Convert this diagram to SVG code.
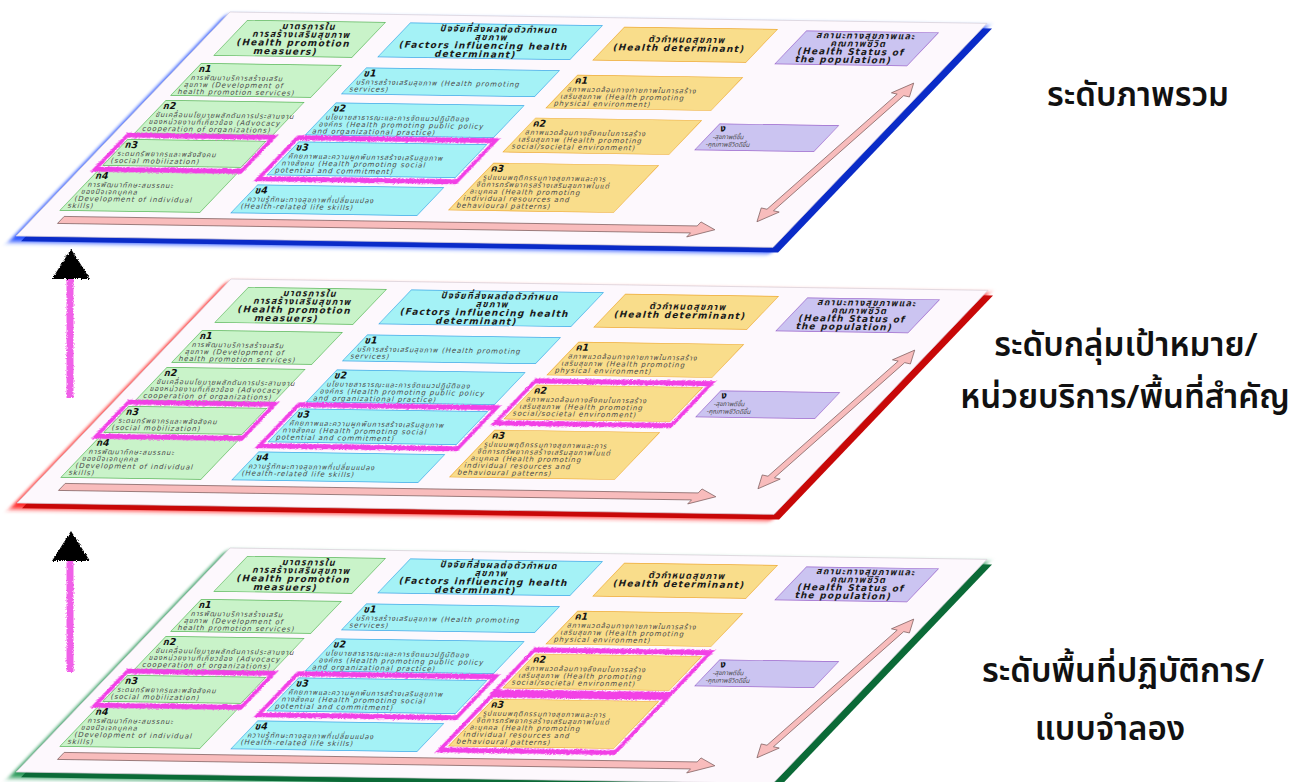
<svg xmlns="http://www.w3.org/2000/svg" width="1299" height="782" viewBox="0 0 1299 782">
<defs>
<filter id="rough" filterUnits="userSpaceOnUse" x="-100" y="-100" width="1500" height="1000">
<feTurbulence type="fractalNoise" baseFrequency="0.7" numOctaves="2" seed="3" result="n"/>
<feDisplacementMap in="SourceGraphic" in2="n" scale="3.5" xChannelSelector="R" yChannelSelector="G"/>
</filter>
<filter id="glow" filterUnits="userSpaceOnUse" x="-100" y="-100" width="1500" height="1000">
<feGaussianBlur stdDeviation="2.2"/>
</filter>
<style>
.face{fill:#fdf8fd;stroke:#d8d0d8;stroke-width:0.6}
.g{fill:#c9f3c9;stroke:#5cb85c;stroke-width:0.7}
.c{fill:#a4f2f6;stroke:#3fa9e8;stroke-width:0.7}
.y{fill:#f9dd8b;stroke:#eeaa33;stroke-width:0.7}
.p{fill:#cbc4f1;stroke:#9a66cc;stroke-width:0.7}
.hl{fill:none;stroke:#f23fe6;stroke-width:5;filter:url(#rough)}
.arr{fill:#f8bcbc;stroke:#7a5a5a;stroke-width:0.6}
text{font-family:"DejaVu Sans","Noto Sans Thai","Noto Sans",sans-serif}
.h{font-size:9px;font-weight:bold;letter-spacing:1.2px;fill:#1a1a1a;text-anchor:middle}
.l{font-size:9.5px;font-weight:bold;fill:#111}
.t{font-size:7px;letter-spacing:0.9px;fill:#4a4a4a}
.s{font-size:6.3px;fill:#4a4a4a}
.big{font-family:"Noto Sans Thai","Noto Sans","Liberation Sans",sans-serif;font-size:33px;font-weight:600;fill:#111;text-anchor:middle}
</style>
</defs>
<rect width="1299" height="782" fill="#ffffff"/>

<!-- ===== TOP PLANE ===== -->
<g id="plane-top" transform="matrix(1 0.015 -0.955 1 230 12)">
<rect x="-2" y="3" width="763" height="227" fill="#2a55ff" filter="url(#glow)"/>
<rect x="9.8" y="5" width="757" height="224" fill="#0a2bc8"/>
<rect class="face" x="0" y="0" width="757" height="224"/>
<g id="top-hk"><rect class="g" x="25" y="8" width="138" height="35"/>
<text class="h" transform="translate(94 16) skewX(34)">มาตรการใน</text>
<text class="h" transform="translate(94 24) skewX(34)">การสร้างเสริมสุขภาพ</text>
<text class="h" transform="translate(94 32.5) skewX(34)">(Health promotion</text>
<text class="h" transform="translate(94 41) skewX(34)">measuers)</text></g>
<g id="top-hkh"><rect class="c" x="188" y="8" width="192" height="34"/>
<text class="h" transform="translate(284 16) skewX(34)">ปัจจัยที่ส่งผลต่อตัวกำหนด</text>
<text class="h" transform="translate(284 24) skewX(34)">สุขภาพ</text>
<text class="h" transform="translate(284 32.5) skewX(34)">(Factors influencing health</text>
<text class="h" transform="translate(284 41) skewX(34)">determinant)</text></g>
<g id="top-hkk"><rect class="y" x="403" y="9" width="153" height="33"/>
<text class="h" transform="translate(479 23.5) skewX(34)">ตัวกำหนดสุขภาพ</text>
<text class="h" transform="translate(479 32) skewX(34)">(Health determinant)</text></g>
<g id="top-hn"><rect class="p" x="586" y="10" width="132" height="33"/>
<text class="h" transform="translate(652 17) skewX(34)">สถานะทางสุขภาพและ</text>
<text class="h" transform="translate(652 25) skewX(34)">คุณภาพชีวิต</text>
<text class="h" transform="translate(652 33) skewX(34)">(Health Status of</text>
<text class="h" transform="translate(652 41) skewX(34)">the population)</text></g>
<g id="top-k1"><rect class="g" x="20" y="51" width="140" height="32"/>
<text class="l" transform="translate(25 59.5) skewX(34)">ก1</text>
<text class="t" transform="translate(25 67.5) skewX(34)">การพัฒนาบริการสร้างเสริม</text>
<text class="t" transform="translate(25 74.5) skewX(34)">สุขภาพ (Development of</text>
<text class="t" transform="translate(25 81.5) skewX(34)">health promotion services)</text></g>
<g id="top-k2"><rect class="g" x="20" y="88" width="138" height="33"/>
<text class="l" transform="translate(25 96.5) skewX(34)">ก2</text>
<text class="t" transform="translate(25 104.5) skewX(34)">ขับเคลื่อนนโยบายผลักดันการประสานงาน</text>
<text class="t" transform="translate(25 111.5) skewX(34)">ของหน่วยงานที่เกี่ยวข้อง (Advocacy</text>
<text class="t" transform="translate(25 118.5) skewX(34)">cooperation of organizations)</text></g>
<g id="top-k3"><rect class="g" x="19" y="127" width="138" height="26"/>
<text class="l" transform="translate(24 135.5) skewX(34)">ก3</text>
<text class="t" transform="translate(24 143.5) skewX(34)">ระดมทรัพยากรและพลังสังคม</text>
<text class="t" transform="translate(24 150.5) skewX(34)">(social mobilization)</text></g>
<g id="top-k4"><rect class="g" x="19" y="158" width="140" height="40"/>
<text class="l" transform="translate(24 166.5) skewX(34)">ก4</text>
<text class="t" transform="translate(24 174.5) skewX(34)">การพัฒนาทักษะสมรรถนะ</text>
<text class="t" transform="translate(24 181.5) skewX(34)">ของปัจเจกบุคคล</text>
<text class="t" transform="translate(24 188.5) skewX(34)">(Development of individual</text>
<text class="t" transform="translate(24 195.5) skewX(34)">skills)</text></g>
<g id="top-kh1"><rect class="c" x="187" y="53" width="193" height="26"/>
<text class="l" transform="translate(192 61.5) skewX(34)">ข1</text>
<text class="t" transform="translate(192 69.5) skewX(34)">บริการสร้างเสริมสุขภาพ (Health promoting</text>
<text class="t" transform="translate(192 76.5) skewX(34)">services)</text></g>
<g id="top-kh2"><rect class="c" x="190" y="88" width="188" height="32"/>
<text class="l" transform="translate(195 96.5) skewX(34)">ข2</text>
<text class="t" transform="translate(195 104.5) skewX(34)">นโยบายสาธารณะและการจัดแนวปฏิบัติของ</text>
<text class="t" transform="translate(195 111.5) skewX(34)">องค์กร  (Health promoting public policy</text>
<text class="t" transform="translate(195 118.5) skewX(34)">and organizational practice)</text></g>
<g id="top-kh3"><rect class="c" x="190" y="127" width="188" height="33"/>
<text class="l" transform="translate(195 135.5) skewX(34)">ข3</text>
<text class="t" transform="translate(195 143.5) skewX(34)">ศักยภาพและความผูกพันการสร้างเสริมสุขภาพ</text>
<text class="t" transform="translate(195 150.5) skewX(34)">ทางสังคม (Health promoting social</text>
<text class="t" transform="translate(195 157.5) skewX(34)">potential and commitment)</text></g>
<g id="top-kh4"><rect class="c" x="190" y="170" width="186" height="28"/>
<text class="l" transform="translate(195 178.5) skewX(34)">ข4</text>
<text class="t" transform="translate(195 186.5) skewX(34)">ความรู้ทักษะทางสุขภาพที่เปลี่ยนแปลง</text>
<text class="t" transform="translate(195 193.5) skewX(34)">(Health-related life skills)</text></g>
<g id="top-kk1"><rect class="y" x="402" y="57" width="165" height="33"/>
<text class="l" transform="translate(407 65.5) skewX(34)">ค1</text>
<text class="t" transform="translate(407 73.5) skewX(34)">สภาพแวดล้อมทางกายภาพในการสร้าง</text>
<text class="t" transform="translate(407 80.5) skewX(34)">เสริมสุขภาพ  (Health promoting</text>
<text class="t" transform="translate(407 87.5) skewX(34)">physical environment)</text></g>
<g id="top-kk2"><rect class="y" x="401" y="100" width="166" height="34"/>
<text class="l" transform="translate(406 108.5) skewX(34)">ค2</text>
<text class="t" transform="translate(406 116.5) skewX(34)">สภาพแวดล้อมทางสังคมในการสร้าง</text>
<text class="t" transform="translate(406 123.5) skewX(34)">เสริมสุขภาพ  (Health promoting</text>
<text class="t" transform="translate(406 130.5) skewX(34)">social/societal environment)</text></g>
<g id="top-kk3"><rect class="y" x="402" y="145" width="165" height="47"/>
<text class="l" transform="translate(407 153.5) skewX(34)">ค3</text>
<text class="t" transform="translate(407 161.5) skewX(34)">รูปแบบพฤติกรรมทางสุขภาพและการ</text>
<text class="t" transform="translate(407 168.5) skewX(34)">จัดการทรัพยากรสร้างเสริมสุขภาพในแต่</text>
<text class="t" transform="translate(407 175.5) skewX(34)">ละบุคคล  (Health promoting</text>
<text class="t" transform="translate(407 182.5) skewX(34)">individual resources and</text>
<text class="t" transform="translate(407 189.5) skewX(34)">behavioural patterns)</text></g>
<g id="top-n"><rect class="p" x="588" y="103" width="119" height="26"/>
<text class="l" transform="translate(595 110.5) skewX(34)">ง</text>
<text class="s" transform="translate(595 118) skewX(34)">-สุขภาพดีขึ้น</text>
<text class="s" transform="translate(595 125.5) skewX(34)">-คุณภาพชีวิตดีขึ้น</text></g>
<g id="top-flow">
<polygon class="arr" points="29,204 662,204 662,200 683,207.5 662,215 662,211 29,211"/>
<polygon class="arr" points="741,60 749.8,73.7 742.9,72.5 722.9,187.9 729.8,189.1 717,199 708.2,185.3 715.1,186.5 735.1,71.1 728.2,69.9"/>
</g>
<g id="top-highlights">
<rect class="hl" x="15" y="123" width="146" height="34"/>
<rect class="hl" x="185" y="123" width="198" height="41"/>
</g>
</g>

<!-- ===== MIDDLE PLANE ===== -->
<g id="plane-mid" transform="matrix(1 0.015 -0.955 1 231 279)">
<rect x="-2" y="3" width="763" height="227" fill="#ff2a2a" filter="url(#glow)"/>
<rect x="9.8" y="5" width="757" height="224" fill="#c80808"/>
<rect class="face" x="0" y="0" width="757" height="224"/>
<g id="mid-hk"><rect class="g" x="25" y="8" width="138" height="35"/>
<text class="h" transform="translate(94 16) skewX(34)">มาตรการใน</text>
<text class="h" transform="translate(94 24) skewX(34)">การสร้างเสริมสุขภาพ</text>
<text class="h" transform="translate(94 32.5) skewX(34)">(Health promotion</text>
<text class="h" transform="translate(94 41) skewX(34)">measuers)</text></g>
<g id="mid-hkh"><rect class="c" x="188" y="8" width="192" height="34"/>
<text class="h" transform="translate(284 16) skewX(34)">ปัจจัยที่ส่งผลต่อตัวกำหนด</text>
<text class="h" transform="translate(284 24) skewX(34)">สุขภาพ</text>
<text class="h" transform="translate(284 32.5) skewX(34)">(Factors influencing health</text>
<text class="h" transform="translate(284 41) skewX(34)">determinant)</text></g>
<g id="mid-hkk"><rect class="y" x="403" y="9" width="153" height="33"/>
<text class="h" transform="translate(479 23.5) skewX(34)">ตัวกำหนดสุขภาพ</text>
<text class="h" transform="translate(479 32) skewX(34)">(Health determinant)</text></g>
<g id="mid-hn"><rect class="p" x="586" y="10" width="132" height="33"/>
<text class="h" transform="translate(652 17) skewX(34)">สถานะทางสุขภาพและ</text>
<text class="h" transform="translate(652 25) skewX(34)">คุณภาพชีวิต</text>
<text class="h" transform="translate(652 33) skewX(34)">(Health Status of</text>
<text class="h" transform="translate(652 41) skewX(34)">the population)</text></g>
<g id="mid-k1"><rect class="g" x="20" y="51" width="140" height="32"/>
<text class="l" transform="translate(25 59.5) skewX(34)">ก1</text>
<text class="t" transform="translate(25 67.5) skewX(34)">การพัฒนาบริการสร้างเสริม</text>
<text class="t" transform="translate(25 74.5) skewX(34)">สุขภาพ (Development of</text>
<text class="t" transform="translate(25 81.5) skewX(34)">health promotion services)</text></g>
<g id="mid-k2"><rect class="g" x="20" y="88" width="138" height="33"/>
<text class="l" transform="translate(25 96.5) skewX(34)">ก2</text>
<text class="t" transform="translate(25 104.5) skewX(34)">ขับเคลื่อนนโยบายผลักดันการประสานงาน</text>
<text class="t" transform="translate(25 111.5) skewX(34)">ของหน่วยงานที่เกี่ยวข้อง (Advocacy</text>
<text class="t" transform="translate(25 118.5) skewX(34)">cooperation of organizations)</text></g>
<g id="mid-k3"><rect class="g" x="19" y="127" width="138" height="26"/>
<text class="l" transform="translate(24 135.5) skewX(34)">ก3</text>
<text class="t" transform="translate(24 143.5) skewX(34)">ระดมทรัพยากรและพลังสังคม</text>
<text class="t" transform="translate(24 150.5) skewX(34)">(social mobilization)</text></g>
<g id="mid-k4"><rect class="g" x="19" y="158" width="140" height="40"/>
<text class="l" transform="translate(24 166.5) skewX(34)">ก4</text>
<text class="t" transform="translate(24 174.5) skewX(34)">การพัฒนาทักษะสมรรถนะ</text>
<text class="t" transform="translate(24 181.5) skewX(34)">ของปัจเจกบุคคล</text>
<text class="t" transform="translate(24 188.5) skewX(34)">(Development of individual</text>
<text class="t" transform="translate(24 195.5) skewX(34)">skills)</text></g>
<g id="mid-kh1"><rect class="c" x="187" y="53" width="193" height="26"/>
<text class="l" transform="translate(192 61.5) skewX(34)">ข1</text>
<text class="t" transform="translate(192 69.5) skewX(34)">บริการสร้างเสริมสุขภาพ (Health promoting</text>
<text class="t" transform="translate(192 76.5) skewX(34)">services)</text></g>
<g id="mid-kh2"><rect class="c" x="190" y="88" width="188" height="32"/>
<text class="l" transform="translate(195 96.5) skewX(34)">ข2</text>
<text class="t" transform="translate(195 104.5) skewX(34)">นโยบายสาธารณะและการจัดแนวปฏิบัติของ</text>
<text class="t" transform="translate(195 111.5) skewX(34)">องค์กร  (Health promoting public policy</text>
<text class="t" transform="translate(195 118.5) skewX(34)">and organizational practice)</text></g>
<g id="mid-kh3"><rect class="c" x="190" y="127" width="188" height="33"/>
<text class="l" transform="translate(195 135.5) skewX(34)">ข3</text>
<text class="t" transform="translate(195 143.5) skewX(34)">ศักยภาพและความผูกพันการสร้างเสริมสุขภาพ</text>
<text class="t" transform="translate(195 150.5) skewX(34)">ทางสังคม (Health promoting social</text>
<text class="t" transform="translate(195 157.5) skewX(34)">potential and commitment)</text></g>
<g id="mid-kh4"><rect class="c" x="190" y="170" width="186" height="28"/>
<text class="l" transform="translate(195 178.5) skewX(34)">ข4</text>
<text class="t" transform="translate(195 186.5) skewX(34)">ความรู้ทักษะทางสุขภาพที่เปลี่ยนแปลง</text>
<text class="t" transform="translate(195 193.5) skewX(34)">(Health-related life skills)</text></g>
<g id="mid-kk1"><rect class="y" x="402" y="57" width="165" height="33"/>
<text class="l" transform="translate(407 65.5) skewX(34)">ค1</text>
<text class="t" transform="translate(407 73.5) skewX(34)">สภาพแวดล้อมทางกายภาพในการสร้าง</text>
<text class="t" transform="translate(407 80.5) skewX(34)">เสริมสุขภาพ  (Health promoting</text>
<text class="t" transform="translate(407 87.5) skewX(34)">physical environment)</text></g>
<g id="mid-kk2"><rect class="y" x="401" y="100" width="166" height="34"/>
<text class="l" transform="translate(406 108.5) skewX(34)">ค2</text>
<text class="t" transform="translate(406 116.5) skewX(34)">สภาพแวดล้อมทางสังคมในการสร้าง</text>
<text class="t" transform="translate(406 123.5) skewX(34)">เสริมสุขภาพ  (Health promoting</text>
<text class="t" transform="translate(406 130.5) skewX(34)">social/societal environment)</text></g>
<g id="mid-kk3"><rect class="y" x="402" y="145" width="165" height="47"/>
<text class="l" transform="translate(407 153.5) skewX(34)">ค3</text>
<text class="t" transform="translate(407 161.5) skewX(34)">รูปแบบพฤติกรรมทางสุขภาพและการ</text>
<text class="t" transform="translate(407 168.5) skewX(34)">จัดการทรัพยากรสร้างเสริมสุขภาพในแต่</text>
<text class="t" transform="translate(407 175.5) skewX(34)">ละบุคคล  (Health promoting</text>
<text class="t" transform="translate(407 182.5) skewX(34)">individual resources and</text>
<text class="t" transform="translate(407 189.5) skewX(34)">behavioural patterns)</text></g>
<g id="mid-n"><rect class="p" x="588" y="103" width="119" height="26"/>
<text class="l" transform="translate(595 110.5) skewX(34)">ง</text>
<text class="s" transform="translate(595 118) skewX(34)">-สุขภาพดีขึ้น</text>
<text class="s" transform="translate(595 125.5) skewX(34)">-คุณภาพชีวิตดีขึ้น</text></g>
<g id="mid-flow">
<polygon class="arr" points="29,204 662,204 662,200 683,207.5 662,215 662,211 29,211"/>
<polygon class="arr" points="741,60 749.8,73.7 742.9,72.5 722.9,187.9 729.8,189.1 717,199 708.2,185.3 715.1,186.5 735.1,71.1 728.2,69.9"/>
</g>
<g id="mid-highlights">
<rect class="hl" x="15" y="123" width="146" height="34"/>
<rect class="hl" x="185" y="123" width="198" height="41"/>
<rect class="hl" x="396" y="96" width="176" height="42"/>
</g>
</g>

<!-- ===== BOTTOM PLANE ===== -->
<g id="plane-bot" transform="matrix(1 0.015 -0.955 1 230 548)">
<rect x="-2" y="3" width="763" height="227" fill="#2a9a5a" filter="url(#glow)"/>
<rect x="9.8" y="5" width="757" height="224" fill="#0b6a37"/>
<rect class="face" x="0" y="0" width="757" height="224"/>
<g id="bot-hk"><rect class="g" x="25" y="8" width="138" height="35"/>
<text class="h" transform="translate(94 16) skewX(34)">มาตรการใน</text>
<text class="h" transform="translate(94 24) skewX(34)">การสร้างเสริมสุขภาพ</text>
<text class="h" transform="translate(94 32.5) skewX(34)">(Health promotion</text>
<text class="h" transform="translate(94 41) skewX(34)">measuers)</text></g>
<g id="bot-hkh"><rect class="c" x="188" y="8" width="192" height="34"/>
<text class="h" transform="translate(284 16) skewX(34)">ปัจจัยที่ส่งผลต่อตัวกำหนด</text>
<text class="h" transform="translate(284 24) skewX(34)">สุขภาพ</text>
<text class="h" transform="translate(284 32.5) skewX(34)">(Factors influencing health</text>
<text class="h" transform="translate(284 41) skewX(34)">determinant)</text></g>
<g id="bot-hkk"><rect class="y" x="403" y="9" width="153" height="33"/>
<text class="h" transform="translate(479 23.5) skewX(34)">ตัวกำหนดสุขภาพ</text>
<text class="h" transform="translate(479 32) skewX(34)">(Health determinant)</text></g>
<g id="bot-hn"><rect class="p" x="586" y="10" width="132" height="33"/>
<text class="h" transform="translate(652 17) skewX(34)">สถานะทางสุขภาพและ</text>
<text class="h" transform="translate(652 25) skewX(34)">คุณภาพชีวิต</text>
<text class="h" transform="translate(652 33) skewX(34)">(Health Status of</text>
<text class="h" transform="translate(652 41) skewX(34)">the population)</text></g>
<g id="bot-k1"><rect class="g" x="20" y="51" width="140" height="32"/>
<text class="l" transform="translate(25 59.5) skewX(34)">ก1</text>
<text class="t" transform="translate(25 67.5) skewX(34)">การพัฒนาบริการสร้างเสริม</text>
<text class="t" transform="translate(25 74.5) skewX(34)">สุขภาพ (Development of</text>
<text class="t" transform="translate(25 81.5) skewX(34)">health promotion services)</text></g>
<g id="bot-k2"><rect class="g" x="20" y="88" width="138" height="33"/>
<text class="l" transform="translate(25 96.5) skewX(34)">ก2</text>
<text class="t" transform="translate(25 104.5) skewX(34)">ขับเคลื่อนนโยบายผลักดันการประสานงาน</text>
<text class="t" transform="translate(25 111.5) skewX(34)">ของหน่วยงานที่เกี่ยวข้อง (Advocacy</text>
<text class="t" transform="translate(25 118.5) skewX(34)">cooperation of organizations)</text></g>
<g id="bot-k3"><rect class="g" x="19" y="127" width="138" height="26"/>
<text class="l" transform="translate(24 135.5) skewX(34)">ก3</text>
<text class="t" transform="translate(24 143.5) skewX(34)">ระดมทรัพยากรและพลังสังคม</text>
<text class="t" transform="translate(24 150.5) skewX(34)">(social mobilization)</text></g>
<g id="bot-k4"><rect class="g" x="19" y="158" width="140" height="40"/>
<text class="l" transform="translate(24 166.5) skewX(34)">ก4</text>
<text class="t" transform="translate(24 174.5) skewX(34)">การพัฒนาทักษะสมรรถนะ</text>
<text class="t" transform="translate(24 181.5) skewX(34)">ของปัจเจกบุคคล</text>
<text class="t" transform="translate(24 188.5) skewX(34)">(Development of individual</text>
<text class="t" transform="translate(24 195.5) skewX(34)">skills)</text></g>
<g id="bot-kh1"><rect class="c" x="187" y="53" width="193" height="26"/>
<text class="l" transform="translate(192 61.5) skewX(34)">ข1</text>
<text class="t" transform="translate(192 69.5) skewX(34)">บริการสร้างเสริมสุขภาพ (Health promoting</text>
<text class="t" transform="translate(192 76.5) skewX(34)">services)</text></g>
<g id="bot-kh2"><rect class="c" x="190" y="88" width="188" height="32"/>
<text class="l" transform="translate(195 96.5) skewX(34)">ข2</text>
<text class="t" transform="translate(195 104.5) skewX(34)">นโยบายสาธารณะและการจัดแนวปฏิบัติของ</text>
<text class="t" transform="translate(195 111.5) skewX(34)">องค์กร  (Health promoting public policy</text>
<text class="t" transform="translate(195 118.5) skewX(34)">and organizational practice)</text></g>
<g id="bot-kh3"><rect class="c" x="190" y="127" width="188" height="33"/>
<text class="l" transform="translate(195 135.5) skewX(34)">ข3</text>
<text class="t" transform="translate(195 143.5) skewX(34)">ศักยภาพและความผูกพันการสร้างเสริมสุขภาพ</text>
<text class="t" transform="translate(195 150.5) skewX(34)">ทางสังคม (Health promoting social</text>
<text class="t" transform="translate(195 157.5) skewX(34)">potential and commitment)</text></g>
<g id="bot-kh4"><rect class="c" x="190" y="170" width="186" height="28"/>
<text class="l" transform="translate(195 178.5) skewX(34)">ข4</text>
<text class="t" transform="translate(195 186.5) skewX(34)">ความรู้ทักษะทางสุขภาพที่เปลี่ยนแปลง</text>
<text class="t" transform="translate(195 193.5) skewX(34)">(Health-related life skills)</text></g>
<g id="bot-kk1"><rect class="y" x="402" y="57" width="165" height="33"/>
<text class="l" transform="translate(407 65.5) skewX(34)">ค1</text>
<text class="t" transform="translate(407 73.5) skewX(34)">สภาพแวดล้อมทางกายภาพในการสร้าง</text>
<text class="t" transform="translate(407 80.5) skewX(34)">เสริมสุขภาพ  (Health promoting</text>
<text class="t" transform="translate(407 87.5) skewX(34)">physical environment)</text></g>
<g id="bot-kk2"><rect class="y" x="401" y="100" width="166" height="34"/>
<text class="l" transform="translate(406 108.5) skewX(34)">ค2</text>
<text class="t" transform="translate(406 116.5) skewX(34)">สภาพแวดล้อมทางสังคมในการสร้าง</text>
<text class="t" transform="translate(406 123.5) skewX(34)">เสริมสุขภาพ  (Health promoting</text>
<text class="t" transform="translate(406 130.5) skewX(34)">social/societal environment)</text></g>
<g id="bot-kk3"><rect class="y" x="402" y="145" width="165" height="47"/>
<text class="l" transform="translate(407 153.5) skewX(34)">ค3</text>
<text class="t" transform="translate(407 161.5) skewX(34)">รูปแบบพฤติกรรมทางสุขภาพและการ</text>
<text class="t" transform="translate(407 168.5) skewX(34)">จัดการทรัพยากรสร้างเสริมสุขภาพในแต่</text>
<text class="t" transform="translate(407 175.5) skewX(34)">ละบุคคล  (Health promoting</text>
<text class="t" transform="translate(407 182.5) skewX(34)">individual resources and</text>
<text class="t" transform="translate(407 189.5) skewX(34)">behavioural patterns)</text></g>
<g id="bot-n"><rect class="p" x="588" y="103" width="119" height="26"/>
<text class="l" transform="translate(595 110.5) skewX(34)">ง</text>
<text class="s" transform="translate(595 118) skewX(34)">-สุขภาพดีขึ้น</text>
<text class="s" transform="translate(595 125.5) skewX(34)">-คุณภาพชีวิตดีขึ้น</text></g>
<g id="bot-flow">
<polygon class="arr" points="29,204 662,204 662,200 683,207.5 662,215 662,211 29,211"/>
<polygon class="arr" points="741,60 749.8,73.7 742.9,72.5 722.9,187.9 729.8,189.1 717,199 708.2,185.3 715.1,186.5 735.1,71.1 728.2,69.9"/>
</g>
<g id="bot-highlights">
<rect class="hl" x="15" y="123" width="146" height="34"/>
<rect class="hl" x="185" y="123" width="198" height="41"/>
<rect class="hl" x="396" y="96" width="176" height="42"/>
<rect class="hl" x="397" y="141" width="175" height="55"/>
</g>
</g>

<!-- ===== CONNECTORS ===== -->
<g id="connectors">
<line x1="70" y1="398" x2="70" y2="276" stroke="#f060e8" stroke-width="7" filter="url(#rough)"/>
<polygon points="71,249 52,279 90,279" fill="#000" filter="url(#rough)"/>
<line x1="70" y1="672" x2="70" y2="558" stroke="#f060e8" stroke-width="7" filter="url(#rough)"/>
<polygon points="71,531 52,561 90,561" fill="#000" filter="url(#rough)"/>
</g>

<!-- ===== LEVEL LABELS ===== -->
<g id="label-top"><text class="big" x="1138" y="106">ระดับภาพรวม</text></g>
<g id="label-mid"><text class="big" x="1126" y="356">ระดับกลุ่มเป้าหมาย/</text>
<text class="big" x="1125" y="408">หน่วยบริการ/พื้นที่สำคัญ</text></g>
<g id="label-bot"><text class="big" x="1123" y="682">ระดับพื้นที่ปฏิบัติการ/</text>
<text class="big" x="1110" y="740">แบบจำลอง</text></g>
</svg>
